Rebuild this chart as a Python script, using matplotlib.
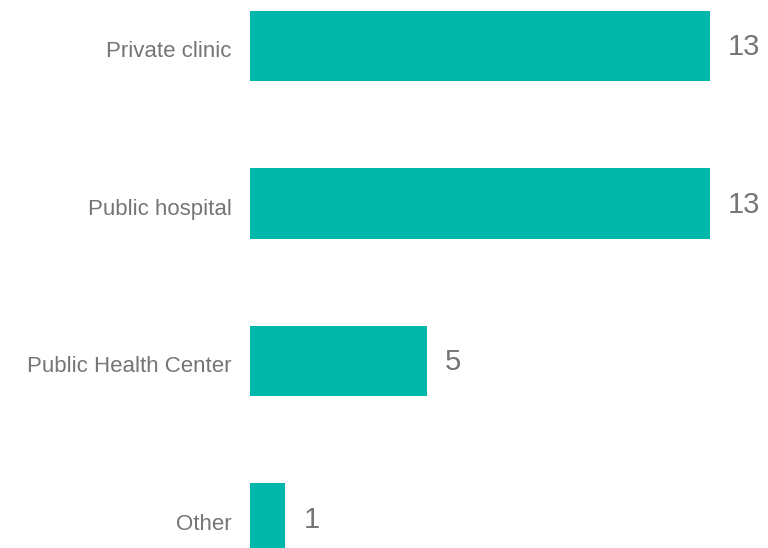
import matplotlib.pyplot as plt
from matplotlib.transforms import ScaledTranslation

plt.rcParams['font.family'] = ['Liberation Sans', 'DejaVu Sans']

categories = ["Private clinic", "Public hospital", "Public Health Center", "Other"]
counts = [13, 13, 5, 1]

bar_color = "#00b8aa"
text_color = "#757575"

fig = plt.figure(figsize=(7.68, 5.48), dpi=100)
ax = fig.add_axes([250 / 768, 0, 518 / 768, 1])

pos = range(len(categories))
ax.barh(pos, counts, height=0.445, color=bar_color)

ax.set_xlim(0, 518 / (460 / 13))
ax.set_ylim(548 / 157.5 - 46 / 157.5, -46 / 157.5)

ax.set_yticks(list(pos))
ax.set_yticklabels(categories, fontsize=16, color=text_color)
ax.tick_params(axis='y', length=0, pad=13)
# nudge the category labels down a little
shift = ScaledTranslation(0, -3 / 100, fig.dpi_scale_trans)
for lbl in ax.get_yticklabels():
    lbl.set_transform(lbl.get_transform() + shift)
ax.set_xticks([])
for s in ax.spines.values():
    s.set_visible(False)

for i, v in zip(pos, counts):
    ax.annotate(str(v), (v, i), xytext=(13, -1), textcoords='offset points',
                va='center', ha='left', fontsize=21, color=text_color)

fig.savefig("out.png", dpi=100)
